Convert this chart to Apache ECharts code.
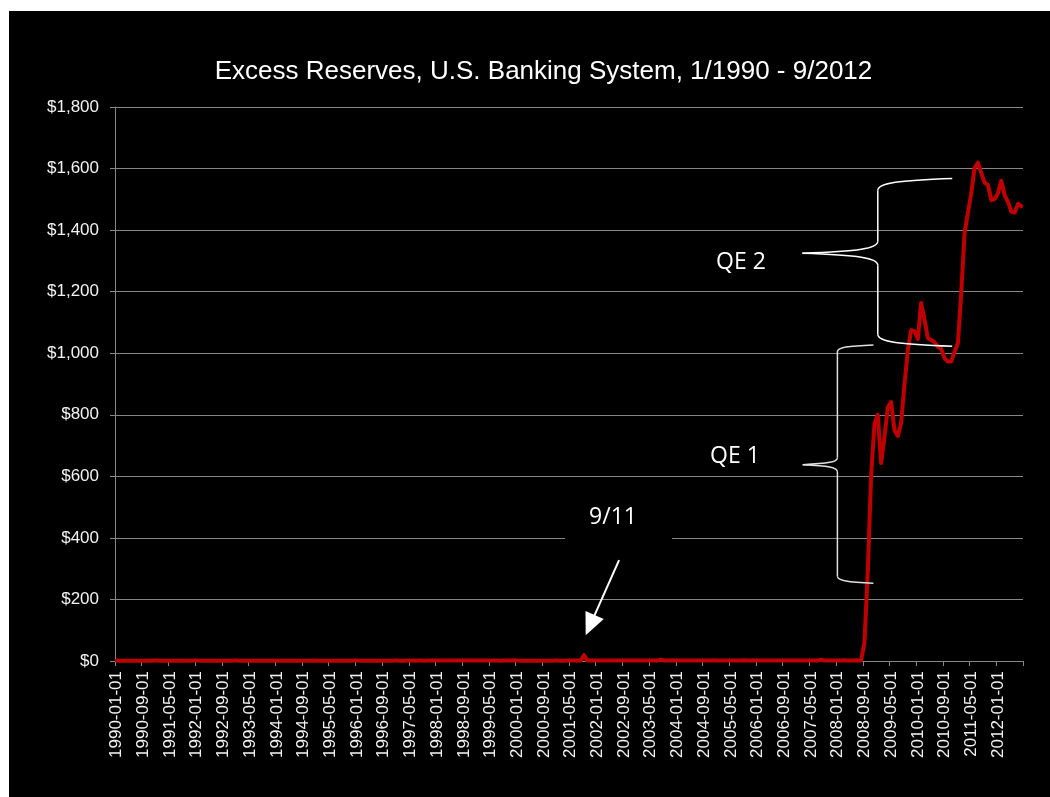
<!DOCTYPE html>
<html>
<head>
<meta charset="utf-8">
<title>Excess Reserves, U.S. Banking System</title>
<script src="https://cdn.jsdelivr.net/npm/echarts@6/dist/echarts.min.js"></script>
<style>
  html, body { margin: 0; padding: 0; background: #ffffff; width: 1050px; height: 797px; overflow: hidden; }
  #chart { position: absolute; left: 9px; top: 11px; width: 1041px; height: 786px; background: #000; }
</style>
</head>
<body>
<div id="chart"></div>
<script>
// Excess reserves of U.S. depository institutions, monthly, billions of dollars
const r1990 = [1.4, 1.1, 1.0, 1.0, 0.9, 1.0, 1.1, 1.0, 1.0, 1.1, 1.0, 1.6];
const r1991 = [1.3, 1.1, 1.0, 1.0, 1.1, 1.0, 1.1, 1.0, 1.1, 1.0, 1.1, 1.5];
const r1992 = [1.4, 1.0, 1.1, 1.0, 1.0, 1.1, 1.0, 1.1, 1.0, 1.1, 1.2, 1.6];
const r1993 = [1.3, 1.1, 1.0, 1.1, 1.0, 1.0, 1.1, 1.0, 1.1, 1.0, 1.1, 1.5];
const r1994 = [1.2, 1.0, 1.1, 1.0, 1.0, 1.1, 1.1, 1.0, 1.0, 1.1, 1.0, 1.4];
const r1995 = [1.2, 1.0, 1.0, 1.1, 1.0, 1.1, 1.0, 1.1, 1.0, 1.1, 1.1, 1.5];
const r1996 = [1.3, 1.1, 1.1, 1.2, 1.1, 1.2, 1.1, 1.2, 1.1, 1.2, 1.2, 1.6];
const r1997 = [1.4, 1.2, 1.2, 1.3, 1.2, 1.3, 1.2, 1.3, 1.2, 1.3, 1.3, 1.7];
const r1998 = [1.5, 1.3, 1.3, 1.4, 1.3, 1.4, 1.3, 1.4, 1.4, 1.3, 1.4, 1.8];
const r1999 = [1.6, 1.4, 1.3, 1.3, 1.2, 1.3, 1.3, 1.2, 1.3, 1.3, 1.4, 2.1];
const r2000 = [1.5, 1.2, 1.1, 1.2, 1.1, 1.1, 1.2, 1.1, 1.2, 1.1, 1.2, 1.6];
const r2001 = [1.4, 1.2, 1.2, 1.3, 1.3, 1.3, 1.4, 1.3, 19.0, 1.6, 1.4, 1.7];
const r2002 = [1.8, 1.6, 1.5, 1.6, 1.5, 1.6, 1.5, 1.6, 1.6, 1.5, 1.6, 2.0];
const r2003 = [1.9, 1.7, 1.6, 1.7, 1.6, 1.7, 1.7, 4.5, 1.8, 1.7, 1.7, 2.1];
const r2004 = [1.9, 1.7, 1.7, 1.8, 1.7, 1.8, 1.7, 1.8, 1.8, 1.7, 1.8, 2.2];
const r2005 = [2.0, 1.8, 1.7, 1.8, 1.7, 1.8, 1.8, 1.7, 2.3, 1.8, 1.7, 2.1];
const r2006 = [1.9, 1.7, 1.7, 1.8, 1.7, 1.8, 1.7, 1.7, 1.8, 1.7, 1.8, 2.0];
const r2007 = [1.8, 1.7, 1.6, 1.7, 1.6, 1.7, 1.6, 4.0, 1.9, 1.7, 1.7, 2.0];
const r2008 = [1.8, 1.7, 2.6, 1.9, 2.0, 2.1, 1.9, 2.0, 58, 290, 600, 770];
const r2009 = [800, 643, 728, 825, 841, 750, 731, 773, 900, 1010, 1075, 1072];
const r2010 = [1046, 1163, 1108, 1049, 1043, 1036, 1021, 1014, 984, 973, 973, 1005];
const r2011 = [1033, 1196, 1391, 1456, 1520, 1602, 1619, 1585, 1554, 1547, 1498, 1501];
const r2012 = [1520, 1560, 1514, 1492, 1460, 1457, 1485, 1478];

const excessReserves = [].concat(
  r1990, r1991, r1992, r1993, r1994, r1995, r1996, r1997, r1998, r1999,
  r2000, r2001, r2002, r2003, r2004, r2005, r2006, r2007, r2008,
  r2009, r2010, r2011, r2012
);

// Month labels, first day of each month from 1990-01 onward
const months = [];
for (let i = 0; i < excessReserves.length; i++) {
  const y = 1990 + Math.floor(i / 12);
  const m = (i % 12) + 1;
  months.push(y + '-' + (m < 10 ? '0' + m : m) + '-01');
}

const yTicks = { min: 0, max: 1800, step: 200 };

const chart = echarts.init(document.getElementById('chart'), null, { renderer: 'canvas' });

const axisFont = 'Liberation Sans, Arial, sans-serif';
const noteFont = 'Open Sans, Noto Sans, sans-serif';

chart.setOption({
  backgroundColor: '#000000',
  animation: false,
  title: {
    text: 'Excess Reserves, U.S. Banking System, 1/1990 - 9/2012',
    left: 529.5,
    top: 43,
    textAlign: 'center',
    textStyle: { color: '#ffffff', fontFamily: axisFont, fontSize: 26, fontWeight: 'normal' }
  },
  grid: { left: 106, right: 27, top: 96, bottom: 136, containLabel: false },
  xAxis: {
    type: 'category',
    data: months,
    boundaryGap: true,
    axisLine: { show: true, lineStyle: { color: '#868686', width: 1 } },
    axisTick: { show: true, interval: 7, length: 5, lineStyle: { color: '#868686' } },
    axisLabel: {
      interval: 7,
      rotate: 90,
      margin: 10,
      color: '#f2f2f2',
      fontFamily: axisFont,
      fontSize: 17
    },
    splitLine: { show: false }
  },
  yAxis: {
    type: 'value',
    min: yTicks.min,
    max: yTicks.max,
    interval: yTicks.step,
    axisLine: { show: true, lineStyle: { color: '#868686', width: 1 } },
    axisTick: { show: true, length: 5, lineStyle: { color: '#868686' } },
    axisLabel: {
      margin: 16,
      color: '#f2f2f2',
      fontFamily: axisFont,
      fontSize: 17,
      formatter: v => '$' + v.toLocaleString('en-US')
    },
    splitLine: { show: true, lineStyle: { color: '#868686', width: 1 } }
  },
  series: [{
    type: 'line',
    name: 'Excess Reserves',
    data: excessReserves,
    showSymbol: false,
    symbol: 'none',
    smooth: false,
    lineStyle: { color: '#c00000', width: 4, join: 'round', cap: 'round' },
    z: 3
  }]
});

// Position helper: fractional month index and value to pixels
function px(f, v) {
  const i = Math.floor(f);
  const a = chart.convertToPixel({ xAxisIndex: 0, yAxisIndex: 0 }, [i, v]);
  const b = chart.convertToPixel({ xAxisIndex: 0, yAxisIndex: 0 }, [i + 1, v]);
  return [a[0] + (b[0] - a[0]) * (f - i), a[1]];
}

// Curly brace opening to the left, built from curves and straight runs
function brace(spineF, endF, tipF, vTop, vMid, vBot, r, color) {
  const sx = px(spineF, vTop)[0];
  const ex = px(endF, vTop)[0];
  const tx = px(tipF, vMid)[0];
  const yT = px(spineF, vTop)[1];
  const yM = px(spineF, vMid)[1];
  const yB = px(spineF, vBot)[1];
  const style = { stroke: color, lineWidth: 1.5, fill: null };
  const curve = (x1, y1, c1x, c1y, c2x, c2y, x2, y2) => ({
    type: 'bezierCurve', z: 10,
    shape: { x1: x1, y1: y1, cpx1: c1x, cpy1: c1y, cpx2: c2x, cpy2: c2y, x2: x2, y2: y2 },
    style: style
  });
  const seg = (x1, y1, x2, y2) => ({
    type: 'line', z: 10, shape: { x1: x1, y1: y1, x2: x2, y2: y2 }, style: style
  });
  return [
    curve(ex, yT, sx + (ex - sx) * 0.3, yT + 0.15 * r, sx, yT + 0.35 * r, sx, yT + r),
    seg(sx, yT + r, sx, yM - r),
    curve(sx, yM - r, sx, yM - 0.4 * r, sx - (sx - tx) * 0.25, yM - 0.15 * r, tx, yM),
    curve(tx, yM, sx - (sx - tx) * 0.25, yM + 0.15 * r, sx, yM + 0.4 * r, sx, yM + r),
    seg(sx, yM + r, sx, yB - r),
    curve(sx, yB - r, sx, yB - 0.35 * r, sx + (ex - sx) * 0.3, yB - 0.15 * r, ex, yB)
  ];
}

function note(text, f, v) {
  const [x, y] = px(f, v);
  return {
    type: 'text', x: x, y: y, z: 20,
    style: {
      text: text, fill: '#ffffff', font: '23px ' + noteFont,
      textAlign: 'center', textVerticalAlign: 'middle'
    }
  };
}

// Arrow toward the September 2001 spike
const arrowFrom = px(150.5, 328);
const arrowTo = px(140.5, 84);
const dx = arrowTo[0] - arrowFrom[0], dy = arrowTo[1] - arrowFrom[1];
const len = Math.hypot(dx, dy);
const ux = dx / len, uy = dy / len;
const headLen = 22, headHalf = 10;
const base = [arrowTo[0] - ux * headLen, arrowTo[1] - uy * headLen];
const head = [
  arrowTo,
  [base[0] - uy * headHalf, base[1] + ux * headHalf],
  [base[0] + uy * headHalf, base[1] - ux * headHalf]
];

const label911 = px(148.7, 465);

chart.setOption({
  graphic: [
    {
      type: 'rect', z: 15,
      shape: { x: label911[0] - 48, y: label911[1] - 24, width: 107, height: 48 },
      style: { fill: '#000000' }
    },
    note('9/11', 148.7, 465),
    {
      type: 'line', z: 20,
      shape: { x1: arrowFrom[0], y1: arrowFrom[1], x2: base[0] + ux * 2, y2: base[1] + uy * 2 },
      style: { stroke: '#ffffff', lineWidth: 2 }
    },
    {
      type: 'polygon', z: 20,
      shape: { points: head },
      style: { fill: '#ffffff' }
    }
  ]
    .concat(brace(215.9, 226.7, 205.5, 1027, 638, 253, 7, '#e0e0e0'))
    .concat(brace(228.0, 250.3, 205.4, 1568, 1325, 1023, 12, '#ffffff'))
    .concat([note('QE 1', 185.2, 663), note('QE 2', 187.0, 1296)])
});
</script>
</body>
</html>
